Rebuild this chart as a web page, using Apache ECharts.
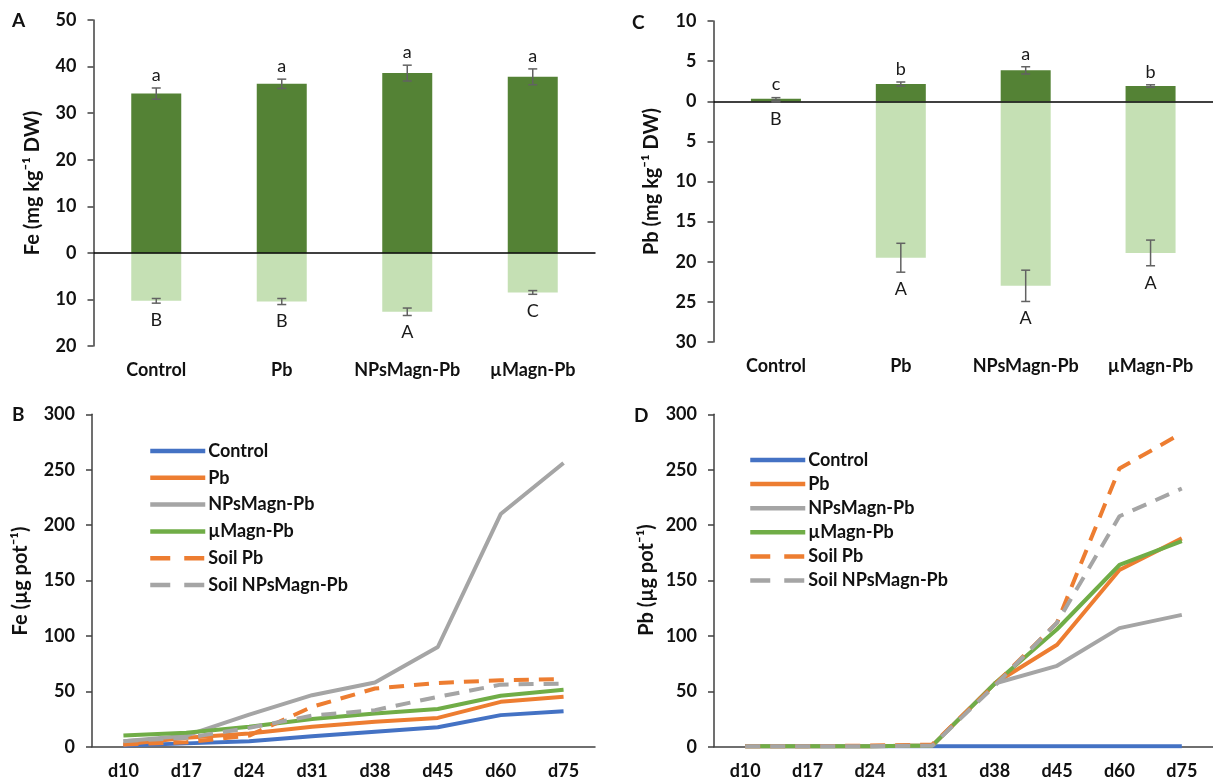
<!DOCTYPE html>
<html><head><meta charset="utf-8">
<script src="https://cdn.jsdelivr.net/npm/echarts@6/dist/echarts.min.js"></script>
<style>html,body{margin:0;padding:0;background:#fff}#c{width:1213px;height:781px}</style>
</head><body><div id="c"></div>
<script>
// ---- Data ----
const barCats = ['Control', 'Pb', 'NPsMagn-Pb', 'µMagn-Pb'];
const feShoot = [34.2, 36.3, 38.6, 37.8];
const feShootErr = [1.2, 1.0, 1.7, 1.7];
const feRoot = [10.3, 10.45, 12.65, 8.5];
const feRootErr = [0.5, 0.65, 0.8, 0.4];
const feShootLetters = ['a', 'a', 'a', 'a'];
const feRootLetters = ['B', 'B', 'A', 'C'];

const pbShoot = [0.3, 2.15, 3.85, 1.9];
const pbShootErr = [0.15, 0.25, 0.45, 0.15];
const pbRoot = [0.05, 19.5, 23.0, 18.9];
const pbRootErr = [0.05, 1.8, 1.95, 1.6];
const pbShootLetters = ['c', 'b', 'a', 'b'];
const pbRootLetters = ['B', 'A', 'A', 'A'];

const days = ['d10', 'd17', 'd24', 'd31', 'd38', 'd45', 'd60', 'd75'];
const lineNames = ['Control', 'Pb', 'NPsMagn-Pb', 'µMagn-Pb', 'Soil Pb', 'Soil NPsMagn-Pb'];

const feControl = [1, 3, 5, 9.5, 13.5, 17.5, 28.5, 32];
const fePb = [2, 8, 12, 18, 22.5, 26, 40.5, 45];
const feNPs = [5, 10, 29, 46.5, 58, 90, 210, 256];
const feMicro = [10, 12.5, 18, 25, 30, 34, 46, 51.5];
const feSoilPb = [2, 4, 10, 36, 52.5, 57.5, 60, 61];
const feSoilNPs = [5, 8, 17, 28, 33, 45, 56, 57];

const pbControl = [0.3, 0.3, 0.3, 0.3, 0.3, 0.3, 0.3, 0.3];
const pbPb = [0.5, 0.5, 0.5, 1, 57, 92, 159.5, 188];
const pbNPs = [0.5, 0.5, 0.5, 1, 57, 73, 107, 119];
const pbMicro = [0.5, 0.5, 0.5, 1, 57, 106, 164, 185.5];
const pbSoilPb = [0.5, 0.5, 1, 2, 56, 112, 251, 283];
const pbSoilNPs = [0.5, 0.5, 0.5, 1, 55, 112, 208, 233];

const axisTitles = ['Fe (mg kg\u207B\u00B9 DW)', 'Pb (mg kg\u207B\u00B9 DW)', 'Fe (µg pot\u207B\u00B9)', 'Pb (µg pot\u207B\u00B9)'];
const panelLetters = ['A', 'C', 'B', 'D'];

// ---- Styles ----
const FONT = 'Lato, "Open Sans", sans-serif';
const TXT = '#111';
const AX = '#404040';
const lineColors = ['#4472C4', '#ED7D31', '#A5A5A5', '#70AD47', '#ED7D31', '#A5A5A5'];
const lineDashed = [false, false, false, false, true, true];

const chart = echarts.init(document.getElementById('c'));

function valueAxis(gridIndex, min, max, interval) {
  return {
    type: 'value', gridIndex, min, max, interval,
    axisLine: { show: true, onZero: false, lineStyle: { color: AX, width: 1.5 } },
    axisTick: { show: true, length: 6, lineStyle: { color: AX, width: 1.5 } },
    splitLine: { show: false },
    axisLabel: { margin: 17, fontFamily: FONT, fontWeight: 'bold', fontSize: 18, color: TXT,
      formatter: v => String(Math.abs(v)) }
  };
}
function catAxis(gridIndex, data, showLine) {
  return {
    type: 'category', gridIndex, data, boundaryGap: true,
    axisLine: { show: showLine, onZero: false, lineStyle: { color: AX, width: 1.5 } },
    axisTick: { show: false },
    axisLabel: { margin: 15, fontFamily: FONT, fontWeight: 'bold', fontSize: 18, color: TXT, interval: 0 }
  };
}

function barPair(axisIdx, pos, neg, posErr, negErr, posLetters, negLetters) {
  const out = [];
  out.push({
    name: 'shoot' + axisIdx, type: 'bar', xAxisIndex: axisIdx, yAxisIndex: axisIdx,
    data: pos, barWidth: 50, barGap: '-100%', itemStyle: { color: '#548235' }, z: 2,
    markLine: { silent: true, symbol: 'none', label: { show: false },
      lineStyle: { color: '#000', width: 1.5, type: 'solid' }, data: [{ yAxis: 0 }] }
  });
  out.push({
    name: 'root' + axisIdx, type: 'bar', xAxisIndex: axisIdx, yAxisIndex: axisIdx,
    data: neg.map(v => -v), barWidth: 50, barGap: '-100%', itemStyle: { color: '#C5E0B4' }, z: 1
  });
  const errData = [];
  pos.forEach((v, i) => errData.push([i, v, posErr[i]]));
  neg.forEach((v, i) => errData.push([i, -v, negErr[i]]));
  out.push({
    name: 'err' + axisIdx, type: 'custom', xAxisIndex: axisIdx, yAxisIndex: axisIdx, z: 5,
    data: errData,
    renderItem: (params, api) => {
      const x = api.value(0), v = api.value(1), e = api.value(2);
      const a = api.coord([x, v + e]), b = api.coord([x, v - e]);
      const w = 4.5;
      const st = { stroke: '#626262', lineWidth: 1.5 };
      return { type: 'group', children: [
        { type: 'line', shape: { x1: a[0], y1: a[1], x2: b[0], y2: b[1] }, style: st },
        { type: 'line', shape: { x1: a[0] - w, y1: a[1], x2: a[0] + w, y2: a[1] }, style: st },
        { type: 'line', shape: { x1: b[0] - w, y1: b[1], x2: b[0] + w, y2: b[1] }, style: st }
      ] };
    }
  });
  const letData = [];
  pos.forEach((v, i) => letData.push([i, v + posErr[i], 1]));
  neg.forEach((v, i) => letData.push([i, -(v + negErr[i]), -1]));
  const letters = posLetters.concat(negLetters);
  out.push({
    name: 'let' + axisIdx, type: 'custom', xAxisIndex: axisIdx, yAxisIndex: axisIdx, z: 6,
    data: letData,
    renderItem: (params, api) => {
      const p = api.coord([api.value(0), api.value(1)]);
      const up = api.value(2) > 0;
      return { type: 'text', x: p[0], y: up ? p[1] - 4 : p[1] + 8,
        style: { text: letters[params.dataIndex], fontFamily: FONT, fontSize: 18, fill: '#1a1a1a',
          align: 'center', verticalAlign: up ? 'bottom' : 'top' } };
    }
  });
  return out;
}

function lineSet(axisIdx, arrays) {
  return arrays.map((d, i) => ({
    name: lineNames[i], type: 'line', xAxisIndex: axisIdx, yAxisIndex: axisIdx,
    data: d, symbol: 'none', smooth: false,
    lineStyle: { color: lineColors[i], width: 4, type: lineDashed[i] ? [15, 10] : 'solid' },
    itemStyle: { color: lineColors[i] }
  }));
}

function legendAt(left, top, gap) {
  return {
    left, top, orient: 'vertical', itemWidth: 55, itemHeight: 14, itemGap: gap, padding: 0,
    data: lineNames.map((n, i) => lineDashed[i]
      ? { name: n, lineStyle: { type: [20, 14], width: 4.5 } }
      : { name: n }),
    selectedMode: false,
    lineStyle: { width: 4.5 },
    itemStyle: { opacity: 0 },
    textStyle: { fontFamily: FONT, fontWeight: 'bold', fontSize: 18, color: TXT, padding: [0, 0, 0, -2] }
  };
}

// axis titles drawn as rotated text (centre x, centre y)
const titleCenters = [[33, 183], [652, 181.5], [21, 581], [647, 580]];
const axisTitleGraphics = axisTitles.map((t, i) => ({
  type: 'text', x: titleCenters[i][0], y: titleCenters[i][1], rotation: Math.PI / 2,
  style: { text: t, align: 'center', verticalAlign: 'middle',
    fontFamily: FONT, fontWeight: 'bold', fontSize: 20, fill: TXT }
}));
const letterPos = [[12, 21], [632, 23], [12, 415], [634, 416]];
const letterGraphics = panelLetters.map((l, i) => ({
  type: 'text', x: letterPos[i][0], y: letterPos[i][1],
  style: { text: l, fontFamily: FONT, fontWeight: 'bold', fontSize: 19, fill: TXT, verticalAlign: 'middle' }
}));

const option = {
  animation: false,
  backgroundColor: '#fff',
  grid: [
    { left: 93.5, top: 20, width: 502, height: 326 },
    { left: 713.5, top: 21, width: 509, height: 321 },
    { left: 92, top: 414.3, width: 503, height: 332.4 },
    { left: 714, top: 414.3, width: 503, height: 332.4 }
  ],
  xAxis: [
    catAxis(0, barCats, false),
    catAxis(1, barCats, false),
    catAxis(2, days, true),
    catAxis(3, days, true)
  ],
  yAxis: [
    valueAxis(0, -20, 50, 10),
    valueAxis(1, -30, 10, 5),
    valueAxis(2, 0, 300, 50),
    valueAxis(3, 0, 300, 50)
  ],
  legend: [legendAt(148, 442, 8.8), legendAt(748, 451, 6.1)],
  graphic: axisTitleGraphics.concat(letterGraphics),
  series: [].concat(
    barPair(0, feShoot, feRoot, feShootErr, feRootErr, feShootLetters, feRootLetters),
    barPair(1, pbShoot, pbRoot, pbShootErr, pbRootErr, pbShootLetters, pbRootLetters),
    lineSet(2, [feControl, fePb, feNPs, feMicro, feSoilPb, feSoilNPs]),
    lineSet(3, [pbControl, pbPb, pbNPs, pbMicro, pbSoilPb, pbSoilNPs])
  )
};
chart.setOption(option);
</script></body></html>
